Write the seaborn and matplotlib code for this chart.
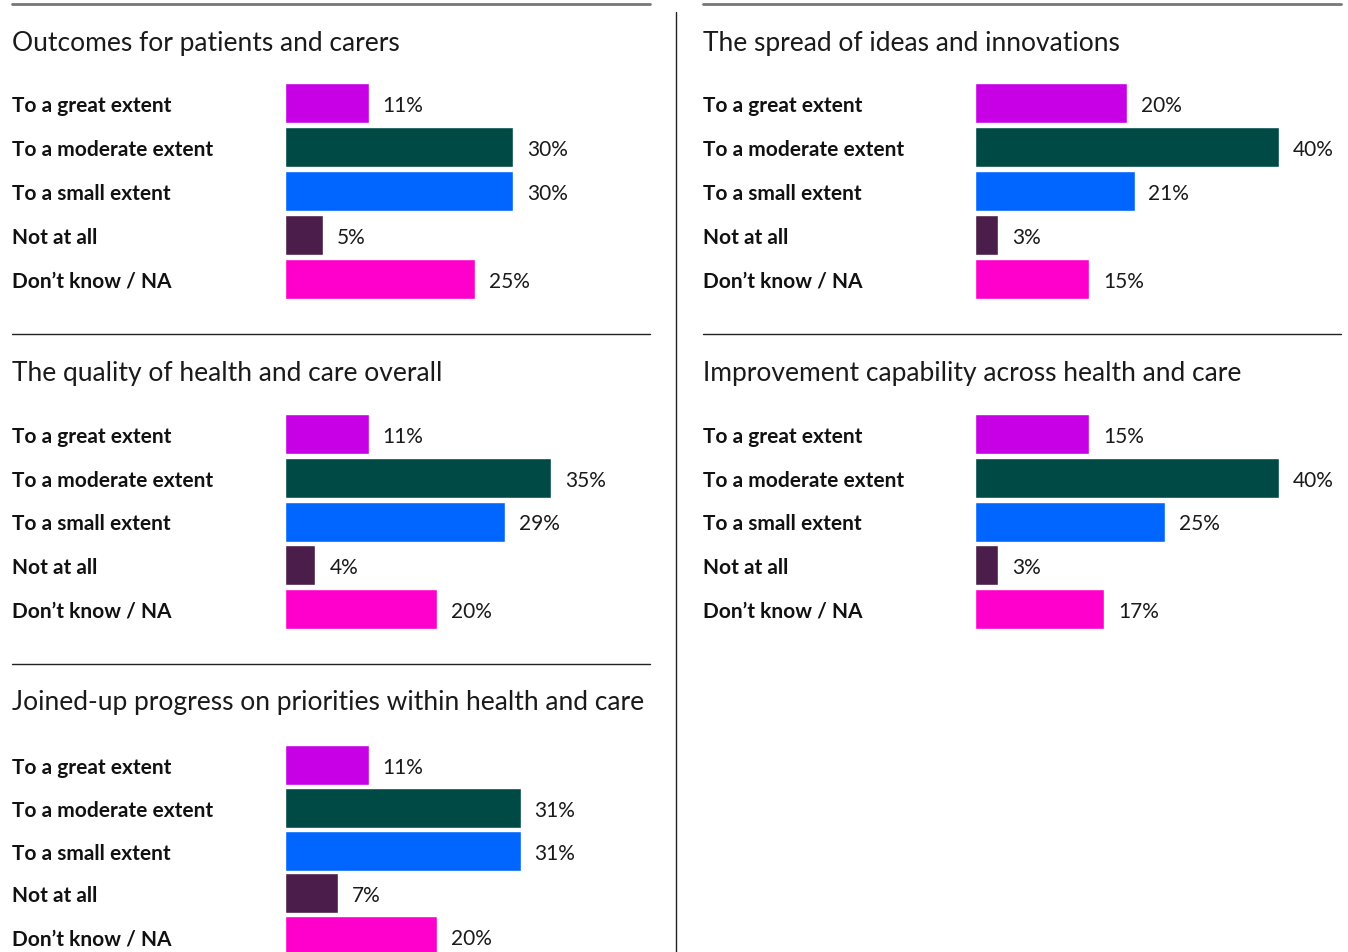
import numpy as np
import pandas as pd
import matplotlib
matplotlib.use("Agg")
import matplotlib.pyplot as plt
import matplotlib.transforms as mtransforms
from matplotlib.lines import Line2D
import seaborn as sns

# 1 Data
answers = ["To a great extent", "To a moderate extent", "To a small extent",
           "Not at all", "Don\u2019t know / NA"]
answer_colors = ["#C800E6", "#004A46", "#0066FF", "#4A1D4A", "#FF00CC"]

titles = [
    "Outcomes for patients and carers",
    "The spread of ideas and innovations",
    "The quality of health and care overall",
    "Improvement capability across health and care",
    "Joined-up progress on priorities within health and care",
]
outcomes = [11, 30, 30, 5, 25]
spread = [20, 40, 21, 3, 15]
quality = [11, 35, 29, 4, 20]
improvement = [15, 40, 25, 3, 17]
joined_up = [11, 31, 31, 7, 20]
panel_values = [outcomes, spread, quality, improvement, joined_up]

# 2 Layout (pixels)
W, H = 1348, 953
sns.set_style("white")
plt.rcParams["font.family"] = ["Lato", "DejaVu Sans"]

fig = plt.figure(figsize=(W / 100, H / 100), dpi=100)

col_x = [12, 703]       # left edge of text per column
bar_x0 = [285, 975]     # bar origin per column
col_w = 638             # rule width
px_per_pct = 7.6
row_pitch = [44, 43.75, 42.8]
row_first = [104, 435, 766]


def fy(y):
    return 1 - y / H


def rule(x0, x1, y, color, lw):
    fig.add_artist(Line2D([x0 / W, x1 / W], [fy(y), fy(y)],
                          color=color, lw=lw, transform=fig.transFigure))


# vertical divider
fig.add_artist(Line2D([676 / W, 676 / W], [fy(13), fy(953)], color="#222222",
                      lw=1, transform=fig.transFigure))

for i, (title, vals) in enumerate(zip(titles, panel_values)):
    col = i % 2
    row = i // 2
    top = 5 + 330 * row
    x_text = col_x[col]
    x0 = bar_x0[col]
    pitch = row_pitch[row]

    if row == 0:
        rule(x_text, x_text + col_w, top, "#777777", 2)
    else:
        rule(x_text, x_text + col_w, top, "#222222", 1)

    fig.text(x_text / W, fy(top + 38), title, fontsize=19,
             color="#1a1a1a", va="center", ha="left")

    ax_top = row_first[row] - pitch / 2
    ax_h = pitch * 5
    ax_w = x_text + col_w - x0
    ax = fig.add_axes([x0 / W, fy(ax_top + ax_h), ax_w / W, ax_h / H])

    df = pd.DataFrame({"answer": answers, "value": vals})
    sns.barplot(data=df, y="answer", x="value", hue="answer",
                palette=answer_colors, order=answers, hue_order=answers,
                orient="h", width=40 / pitch, legend=False, ax=ax,
                saturation=1)
    ax.set_xlim(0, ax_w / px_per_pct)
    ax.set_ylim(4.5, -0.5)
    ax.axis("off")

    for cont in ax.containers:
        labels = ax.bar_label(cont, fmt="{:.0f}%", padding=10, fontsize=15,
                              color="#1a1a1a")
        for t in labels:
            t.set_va("center_baseline")

    tr = mtransforms.blended_transform_factory(fig.transFigure, ax.transData)
    for j, a in enumerate(answers):
        ax.text(x_text / W, j, a, transform=tr, fontsize=15, fontweight="bold",
                color="#111111", va="center_baseline", ha="left")

fig.savefig("out.png", dpi=100)
